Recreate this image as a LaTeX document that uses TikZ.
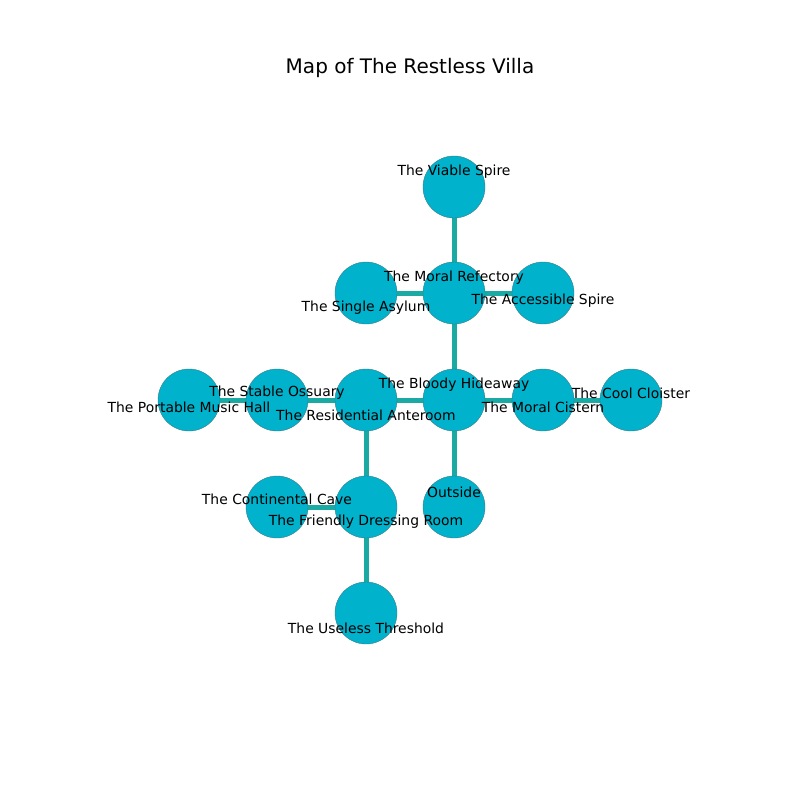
\documentclass[tikz,border=0pt]{standalone}
\usepackage{fontspec}
\setmainfont{DejaVu Sans}
\definecolor{nodefill}{HTML}{00B2CC}
\definecolor{edgecol}{HTML}{1AA9A3}
\definecolor{bordercol}{HTML}{3A7A85}
\begin{document}
\begin{tikzpicture}[x=1pt,y=-1pt,
  room/.style={circle,fill=nodefill,draw=bordercol,line width=0.4pt,minimum size=62pt,inner sep=0pt},
  link/.style={edgecol,line width=5pt},
  lbl/.style={font=\fontsize{13.9}{15}\selectfont,inner sep=0pt,anchor=center}]
\useasboundingbox (0,0) rectangle (800,800);
\node[font=\fontsize{20}{22}\selectfont] (title) at (410,68) {Map of The Restless Villa};
% rooms
\coordinate (vs) at (454,187);
\coordinate (mr) at (454,293);
\coordinate (sa) at (366,293);
\coordinate (as) at (543,293);
\coordinate (bh) at (454,400);
\coordinate (ra) at (366,400);
\coordinate (so) at (277,400);
\coordinate (pm) at (189,400);
\coordinate (mc) at (543,400);
\coordinate (cc) at (631,400);
\coordinate (ou) at (454,507);
\coordinate (fd) at (366,507);
\coordinate (cv) at (277,507);
\coordinate (ut) at (366,613);
% edges
\draw[link] (vs) -- (mr);
\draw[link] (mr) -- (sa);
\draw[link] (mr) -- (as);
\draw[link] (mr) -- (bh);
\draw[link] (bh) -- (ra);
\draw[link] (ra) -- (so);
\draw[link] (so) -- (pm);
\draw[link] (bh) -- (mc);
\draw[link] (mc) -- (cc);
\draw[link] (bh) -- (ou);
\draw[link] (ra) -- (fd);
\draw[link] (fd) -- (cv);
\draw[link] (fd) -- (ut);
% nodes
\foreach \c in {vs,mr,sa,as,bh,ra,so,pm,mc,cc,ou,fd,cv,ut}
  \node[room] (n\c) at (\c) {};
% labels
\node[lbl] (lvs) at (454,172) {The Viable Spire};
\node[lbl] (lmr) at (454,278) {The Moral Refectory};
\node[lbl] (lsa) at (366,308) {The Single Asylum};
\node[lbl] (las) at (543,301) {The Accessible Spire};
\node[lbl] (lbh) at (454,385) {The Bloody Hideaway};
\node[lbl] (lra) at (366,415) {The Residential Anteroom};
\node[lbl] (lso) at (277,393) {The Stable Ossuary};
\node[lbl] (lpm) at (189,407) {The Portable Music Hall};
\node[lbl] (lmc) at (543,407) {The Moral Cistern};
\node[lbl] (lcc) at (631,393) {The Cool Cloister};
\node[lbl] (lou) at (454,492) {Outside};
\node[lbl] (lfd) at (366,522) {The Friendly Dressing Room};
\node[lbl] (lcv) at (277,499) {The Continental Cave};
\node[lbl] (lut) at (366,628) {The Useless Threshold};
\end{tikzpicture}
\end{document}
